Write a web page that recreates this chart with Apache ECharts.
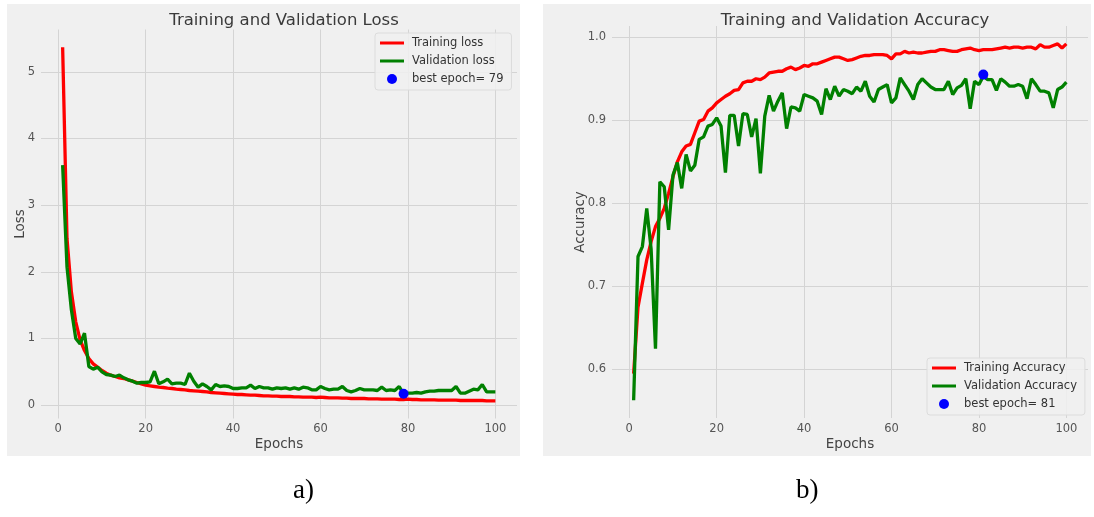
<!DOCTYPE html>
<html>
<head>
<meta charset="utf-8">
<script src="https://cdn.jsdelivr.net/npm/echarts@6/dist/echarts.min.js"></script>
<style>
  html, body { margin: 0; padding: 0; background: #ffffff; }
  #chart { width: 1094px; height: 517px; }
</style>
</head>
<body>
<div id="chart"></div>
<script>
// values, epochs 1..100
const trainLoss = [
    5.37, 2.5, 1.7, 1.25, 0.98, 0.82, 0.7, 0.62, 0.57, 0.52,
    0.48, 0.45, 0.43, 0.41, 0.4, 0.38, 0.36, 0.34, 0.32, 0.3,
    0.29, 0.28, 0.27, 0.265, 0.255, 0.25, 0.24, 0.235, 0.23, 0.22,
    0.215, 0.21, 0.205, 0.2, 0.19, 0.185, 0.18, 0.175, 0.17, 0.165,
    0.16, 0.16, 0.155, 0.15, 0.15, 0.145, 0.14, 0.14, 0.135, 0.135,
    0.13, 0.13, 0.13, 0.125, 0.125, 0.12, 0.12, 0.12, 0.115, 0.12,
    0.115, 0.11, 0.11, 0.11, 0.105, 0.105, 0.1, 0.1, 0.1, 0.1,
    0.095, 0.095, 0.095, 0.09, 0.09, 0.09, 0.09, 0.085, 0.085, 0.09,
    0.085, 0.085, 0.08, 0.08, 0.08, 0.08, 0.075, 0.075, 0.075, 0.075,
    0.075, 0.07, 0.07, 0.07, 0.07, 0.07, 0.07, 0.065, 0.065, 0.065
];
const valLoss = [
    3.6, 2.07, 1.43, 1.0, 0.92, 1.08, 0.58, 0.54, 0.57, 0.5,
    0.46, 0.45, 0.43, 0.45, 0.41, 0.38, 0.36, 0.33, 0.34, 0.34,
    0.35, 0.51, 0.32, 0.35, 0.39, 0.32, 0.33, 0.33, 0.31, 0.48,
    0.36, 0.27, 0.32, 0.28, 0.23, 0.31, 0.28, 0.29, 0.28, 0.25,
    0.25, 0.26, 0.26, 0.3, 0.25, 0.28, 0.26, 0.26, 0.24, 0.26,
    0.25, 0.26, 0.24, 0.26, 0.24, 0.27, 0.26, 0.23, 0.23, 0.28,
    0.25, 0.23, 0.24, 0.24, 0.28, 0.22, 0.2, 0.22, 0.25, 0.23,
    0.23, 0.23, 0.22, 0.27, 0.22, 0.23, 0.22, 0.28, 0.17, 0.18,
    0.18, 0.19, 0.18, 0.2, 0.21, 0.21, 0.22, 0.22, 0.22, 0.22,
    0.28, 0.18, 0.18, 0.21, 0.24, 0.23, 0.31, 0.2, 0.2, 0.2
];
const trainAcc = [
    0.595, 0.675, 0.704, 0.732, 0.754, 0.772, 0.782, 0.794, 0.812, 0.832,
    0.85, 0.862, 0.869, 0.871, 0.885, 0.899, 0.901, 0.911, 0.915, 0.921,
    0.925, 0.929, 0.932, 0.936, 0.937, 0.945, 0.947, 0.947, 0.95, 0.949,
    0.952, 0.957, 0.958, 0.959, 0.959, 0.962, 0.964, 0.961, 0.963, 0.966,
    0.965, 0.968, 0.968, 0.97, 0.972, 0.974, 0.976, 0.976, 0.974, 0.972,
    0.973, 0.975, 0.977, 0.978, 0.978, 0.979, 0.979, 0.979, 0.978, 0.974,
    0.98, 0.98, 0.983, 0.981, 0.982, 0.981, 0.981, 0.982, 0.983, 0.983,
    0.985, 0.985, 0.984, 0.983, 0.983, 0.985, 0.986, 0.987, 0.985, 0.984,
    0.985, 0.985, 0.985, 0.986, 0.987, 0.988, 0.987, 0.988, 0.988, 0.987,
    0.988, 0.988, 0.986, 0.991, 0.988, 0.988, 0.99, 0.992, 0.987, 0.992
];
const valAcc = [
    0.563, 0.736, 0.748, 0.794, 0.745, 0.625, 0.826, 0.82, 0.768, 0.834,
    0.849, 0.818, 0.859, 0.839, 0.846, 0.877, 0.88, 0.893, 0.895, 0.903,
    0.893, 0.837, 0.906, 0.906, 0.869, 0.908, 0.907, 0.88, 0.902, 0.836,
    0.905, 0.93, 0.911, 0.923, 0.933, 0.89, 0.916, 0.915, 0.911, 0.931,
    0.929, 0.927, 0.923, 0.907, 0.938, 0.925, 0.941, 0.929, 0.937, 0.935,
    0.932, 0.94, 0.935, 0.947, 0.929, 0.922, 0.937, 0.94, 0.943, 0.921,
    0.927, 0.951, 0.943, 0.935, 0.925, 0.943, 0.95, 0.945, 0.94, 0.937,
    0.937, 0.937, 0.947, 0.931, 0.939, 0.942, 0.95, 0.914, 0.947, 0.943,
    0.953, 0.949, 0.949, 0.936, 0.95, 0.946, 0.941, 0.941, 0.943, 0.941,
    0.926, 0.95, 0.943, 0.935, 0.935, 0.933, 0.915, 0.937, 0.94, 0.946
];
const bestLoss = [79, 0.17];
const bestAcc = [81, 0.955];

const xTicks = [0, 20, 40, 60, 80, 100];
const lossTicks = [0, 1, 2, 3, 4, 5];
const accTicks = [0.6, 0.7, 0.8, 0.9, 1.0];

const FONT = 'DejaVu Sans';
const LINE_ICON = 'path://M0,0H24V3H0Z';

function withEpochs(values) {
    return values.map((v, i) => [i + 1, v]);
}

function xAxisFor(gridIndex) {
    return {
        type: 'value', gridIndex: gridIndex, min: -3.95, max: 104.95,
        name: 'Epochs', nameLocation: 'middle', nameGap: 19, nameMoveOverlap: false,
        nameTextStyle: { fontFamily: FONT, fontSize: 13.5, color: '#444' },
        axisLine: { show: false },
        axisTick: { show: false, customValues: xTicks },
        axisLabel: { customValues: xTicks, margin: 5, fontFamily: FONT, fontSize: 11.5, color: '#555' },
        splitLine: { show: true, lineStyle: { color: '#d4d4d4', width: 1 } }
    };
}

function yAxisFor(gridIndex, name, min, max, ticks, gap, fmt) {
    return {
        type: 'value', gridIndex: gridIndex, min: min, max: max,
        name: name, nameLocation: 'middle', nameGap: gap, nameMoveOverlap: false,
        nameTextStyle: { fontFamily: FONT, fontSize: 13.5, color: '#444' },
        axisLine: { show: false },
        axisTick: { show: false, customValues: ticks },
        axisLabel: { customValues: ticks, margin: 6, fontFamily: FONT, fontSize: 11.5, color: '#555', formatter: fmt },
        splitLine: { show: true, lineStyle: { color: '#d4d4d4', width: 1 } }
    };
}

function lineSeries(name, values, color, axisIndex) {
    return {
        type: 'line', name: name, data: withEpochs(values),
        xAxisIndex: axisIndex, yAxisIndex: axisIndex,
        showSymbol: false, symbol: 'none', silent: true,
        itemStyle: { color: color },
        lineStyle: { color: color, width: 3.3 }
    };
}

function legendFor(left, top, names) {
    return {
        orient: 'vertical', left: left, top: top,
        padding: [3, 8, 4, 5], itemGap: 4,
        itemWidth: 24, itemHeight: 10,
        selectedMode: false,
        backgroundColor: 'rgba(240,240,240,0.85)',
        borderColor: '#dcdcdc', borderWidth: 1, borderRadius: 3,
        textStyle: { fontFamily: FONT, fontSize: 11.5, color: '#333', lineHeight: 14, padding: [0, 0, 0, 3] },
        data: [
            { name: names[0], icon: LINE_ICON },
            { name: names[1], icon: LINE_ICON },
            { name: names[2], icon: 'circle' }
        ]
    };
}

const chart = echarts.init(document.getElementById('chart'));

const option = {
    animation: false,
    backgroundColor: '#ffffff',
    graphic: [
        { type: 'rect', z: -10, silent: true, shape: { x: 7, y: 4, width: 513, height: 452 }, style: { fill: '#f0f0f0' } },
        { type: 'rect', z: -10, silent: true, shape: { x: 543, y: 4, width: 548, height: 452 }, style: { fill: '#f0f0f0' } },
        { type: 'text', left: 293, top: 477, style: { text: 'a)', font: '27px "Liberation Serif"', fill: '#000' } },
        { type: 'text', left: 796, top: 477, style: { text: 'b)', font: '27px "Liberation Serif"', fill: '#000' } }
    ],
    title: [
        { text: 'Training and Validation Loss', left: 279, top: 7, textAlign: 'center',
          textStyle: { fontFamily: FONT, fontSize: 16.5, fontWeight: 'normal', color: '#3a3a3a' } },
        { text: 'Training and Validation Accuracy', left: 850, top: 7, textAlign: 'center',
          textStyle: { fontFamily: FONT, fontSize: 16.5, fontWeight: 'normal', color: '#3a3a3a' } }
    ],
    grid: [
        { left: 41, top: 29.5, width: 476, height: 389 },
        { left: 612, top: 26, width: 476, height: 392 }
    ],
    xAxis: [xAxisFor(0), xAxisFor(1)],
    yAxis: [
        yAxisFor(0, 'Loss', -0.2, 5.635, lossTicks, 14, v => String(v)),
        yAxisFor(1, 'Accuracy', 0.5416, 1.0135, accTicks, 25, v => v.toFixed(1))
    ],
    legend: [
        legendFor(375, 33, ['Training loss', 'Validation loss', 'best epoch= 79']),
        legendFor(927, 358, ['Training Accuracy', 'Validation Accuracy', 'best epoch= 81'])
    ],
    series: [
        lineSeries('Training loss', trainLoss, '#ff0000', 0),
        lineSeries('Validation loss', valLoss, '#008000', 0),
        { type: 'scatter', name: 'best epoch= 79', data: [bestLoss], xAxisIndex: 0, yAxisIndex: 0,
          symbolSize: 10, itemStyle: { color: '#0000ff', opacity: 1 }, z: 5, silent: true },
        lineSeries('Training Accuracy', trainAcc, '#ff0000', 1),
        lineSeries('Validation Accuracy', valAcc, '#008000', 1),
        { type: 'scatter', name: 'best epoch= 81', data: [bestAcc], xAxisIndex: 1, yAxisIndex: 1,
          symbolSize: 10, itemStyle: { color: '#0000ff', opacity: 1 }, z: 5, silent: true }
    ]
};

chart.setOption(option);
</script>
</body>
</html>
